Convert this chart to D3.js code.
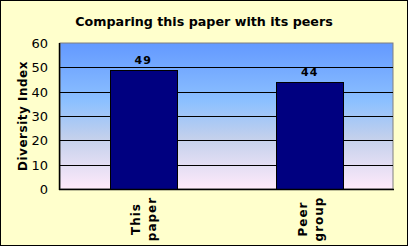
<!DOCTYPE html>
<html>
<head>
<meta charset="utf-8">
<script src="https://cdn.jsdelivr.net/npm/d3@7"></script>
<style>
  body { margin: 0; background: #fff; }
  svg text { font-family: "DejaVu Sans", Verdana, sans-serif; }
</style>
</head>
<body>
<svg width="408" height="246"></svg>
<script>
// chart data
var categories = [["This", "paper"], ["Peer", "group"]];
var values = [49, 44];
var yTicks = [0, 10, 20, 30, 40, 50, 60];

var svg = d3.select('svg');

// background + frame
svg.append('rect')
    .attr('x', 0.5).attr('y', 0.5)
    .attr('width', 407).attr('height', 245)
    .attr('fill', '#FFFFCC')
    .attr('stroke', '#000');

var defs = svg.append('defs');
var gradient = defs.append('linearGradient')
    .attr('id', 'plotGradient')
    .attr('x1', '0%').attr('x2', '0%')
    .attr('y1', '0%').attr('y2', '100%');
gradient.append('stop').attr('offset', '0%').attr('stop-color', '#6399FF');
gradient.append('stop').attr('offset', '40%').attr('stop-color', '#8CC0FF');
gradient.append('stop').attr('offset', '65%').attr('stop-color', '#C3D0EC');
gradient.append('stop').attr('offset', '100%').attr('stop-color', '#FFEAFA');

var plotL = 60, plotR = 393, plotT = 43, plotB = 189;

var xScale = d3.scaleBand()
    .domain(d3.range(categories.length))
    .range([plotL, plotR])
    .paddingInner(0.6).paddingOuter(0.3);

var yScale = d3.scaleLinear()
    .domain([0, 60]).range([plotB, plotT]);

// plot area
svg.append('rect')
    .attr('x', plotL).attr('y', plotT)
    .attr('width', plotR - plotL).attr('height', plotB - plotT)
    .attr('fill', 'url(#plotGradient)')
    .attr('stroke', '#808080');

// gridlines
svg.append('g').selectAll('line')
    .data(yTicks.filter(d => d > 0 && d < 60))
    .join('line')
    .attr('x1', plotL).attr('x2', plotR)
    .attr('y1', d => Math.round(yScale(d)) + 0.5)
    .attr('y2', d => Math.round(yScale(d)) + 0.5)
    .attr('stroke', '#000');

// bars
svg.append('g').selectAll('rect')
    .data(values)
    .join('rect')
    .attr('x', (d, i) => Math.round(xScale(i)) + 0.5)
    .attr('y', d => Math.round(yScale(d)) + 0.5)
    .attr('width', Math.round(xScale.bandwidth()))
    .attr('height', d => plotB - Math.round(yScale(d)))
    .attr('fill', '#000080')
    .attr('stroke', '#000');

// value labels
svg.append('g').selectAll('text')
    .data(values)
    .join('text')
    .attr('x', (d, i) => xScale(i) + xScale.bandwidth() / 2)
    .attr('y', d => yScale(d) - 6)
    .attr('text-anchor', 'middle')
    .style('font-size', '11px')
    .style('font-weight', 'bold')
    .style('letter-spacing', '1px')
    .text(d => d);

// axis lines (left + bottom black)
svg.append('line')
    .attr('x1', plotL - 0.5).attr('x2', plotL - 0.5)
    .attr('y1', plotT).attr('y2', plotB + 1)
    .attr('stroke', '#000').attr('stroke-width', 1.5);
svg.append('line')
    .attr('x1', plotL - 1).attr('x2', plotR + 1)
    .attr('y1', plotB + 0.5).attr('y2', plotB + 0.5)
    .attr('stroke', '#000').attr('stroke-width', 1.5);

// y tick labels
svg.append('g').selectAll('text')
    .data(yTicks)
    .join('text')
    .attr('x', 48)
    .attr('y', d => yScale(d) + 5)
    .attr('text-anchor', 'end')
    .style('font-size', '13px')
    .text(d => d);

// x category labels (rotated, two lines)
categories.forEach(function(lines, i) {
    var cx = xScale(i) + xScale.bandwidth() / 2;
    var g = svg.append('g')
        .attr('transform', 'translate(' + cx + ',219) rotate(-90)');
    lines.forEach(function(t, j) {
        g.append('text')
            .attr('x', 0)
            .attr('y', (j - 0.5) * 16 + 5)
            .attr('text-anchor', 'middle')
            .style('font-size', '12px')
            .style('font-weight', 'bold')
            .style('letter-spacing', '1px')
            .text(t);
    });
});

// title
svg.append('text')
    .text('Comparing this paper with its peers')
    .attr('x', 204).attr('y', 26)
    .attr('text-anchor', 'middle')
    .style('font-size', '12.7px')
    .style('font-weight', 'bold');

// y axis title
svg.append('text')
    .text('Diversity Index')
    .attr('transform', 'translate(27,116) rotate(-90)')
    .attr('text-anchor', 'middle')
    .style('font-size', '12px')
    .style('font-weight', 'bold')
    .style('letter-spacing', '0.5px');
</script>
</body>
</html>
